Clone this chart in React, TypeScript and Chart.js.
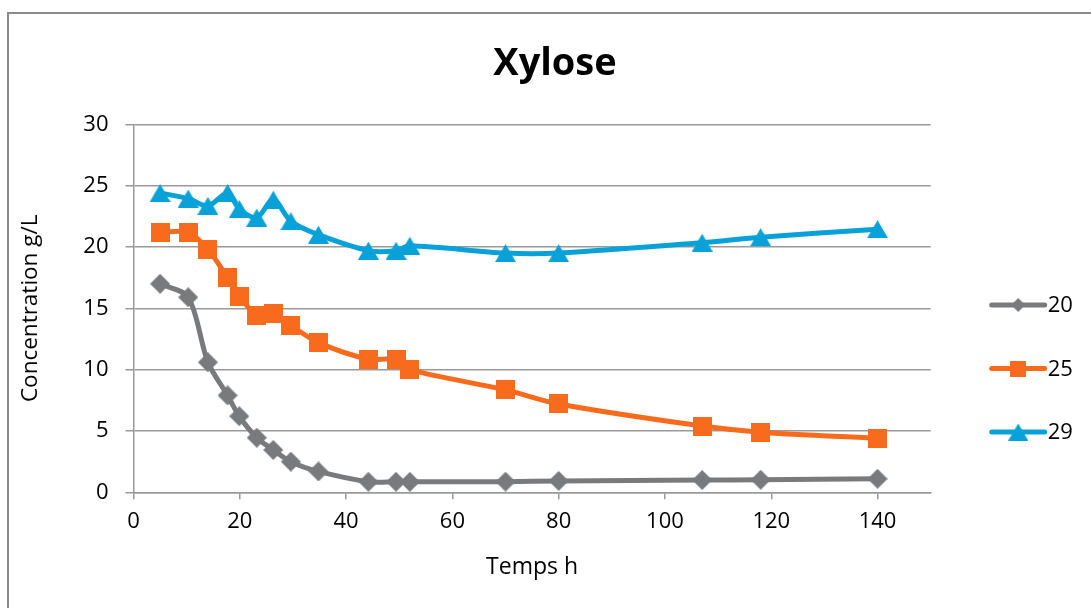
import React, { useEffect, useRef } from "react";
import { Chart, registerables } from "chart.js";

Chart.register(...registerables);

const chartTitle = "Xylose";
const xTitle = "Temps h";
const yTitle = "Concentration g/L";
const seriesNames = ["20", "25", "29"];
const times = [5, 10.3, 14, 17.7, 19.9, 23.2, 26.3, 29.6, 34.8, 44.2, 49.4, 52, 70, 80, 107, 118, 140];
const series20 = [17.0, 15.9, 10.6, 7.9, 6.2, 4.45, 3.45, 2.5, 1.7, 0.86, 0.86, 0.85, 0.87, 0.93, 1.0, 1.02, 1.1];
const series25 = [21.2, 21.2, 19.8, 17.5, 16.0, 14.45, 14.55, 13.6, 12.2, 10.85, 10.85, 10.0, 8.35, 7.2, 5.4, 4.9, 4.4];
const series29 = [24.4, 23.95, 23.35, 24.4, 23.1, 22.4, 23.85, 22.1, 21.0, 19.7, 19.7, 20.1, 19.5, 19.5, 20.35, 20.8, 21.45];
const xTicks = [0, 20, 40, 60, 80, 100, 120, 140];
const yTicks = [0, 5, 10, 15, 20, 25, 30];

const colors = ["#797a7c", "#f96b1c", "#08a2d9"];
const shapes = ["diamond", "square", "triangle"];
const FONT = "'Open Sans', sans-serif";
const GRID = "#9a9a9a";

function makeMarker(shape: string, color: string, s: number): HTMLCanvasElement {
  const c = document.createElement("canvas");
  let w = 20 * s, h = 20 * s;
  if (shape === "square") { w = 19 * s; h = 19 * s; }
  if (shape === "triangle") { w = 21 * s; h = 18 * s; }
  c.width = Math.round(w);
  c.height = Math.round(h);
  const ctx = c.getContext("2d")!;
  ctx.fillStyle = color;
  ctx.beginPath();
  if (shape === "diamond") {
    ctx.moveTo(c.width / 2, 0);
    ctx.lineTo(c.width, c.height / 2);
    ctx.lineTo(c.width / 2, c.height);
    ctx.lineTo(0, c.height / 2);
  } else if (shape === "square") {
    ctx.rect(0, 0, c.width, c.height);
  } else {
    ctx.moveTo(c.width / 2, 0);
    ctx.lineTo(c.width, c.height);
    ctx.lineTo(0, c.height);
  }
  ctx.closePath();
  ctx.fill();
  return c;
}

export default function App() {
  const ref = useRef<HTMLCanvasElement | null>(null);

  useEffect(() => {
    if (!ref.current) return;
    const values = [series20, series25, series29];
    const markers = shapes.map((sh, i) => makeMarker(sh, colors[i], 1));
    const legendMarkers = [
      makeMarker("diamond", colors[0], 0.7),
      makeMarker("square", colors[1], 0.85),
      makeMarker("triangle", colors[2], 0.95),
    ];

    const legendPlugin = {
      id: "excelLegend",
      afterDraw(chart: any) {
        const ctx = chart.ctx;
        const area = chart.chartArea;
        const lx = area.right + 59;
        const ys = [305, 368.5, 432];
        ctx.save();
        chart.data.datasets.forEach((ds: any, i: number) => {
          const y = ys[i];
          ctx.strokeStyle = colors[i];
          ctx.lineWidth = 5;
          ctx.lineCap = "round";
          ctx.beginPath();
          ctx.moveTo(lx + 2, y);
          ctx.lineTo(lx + 55, y);
          ctx.stroke();
          const m = legendMarkers[i];
          ctx.drawImage(m, lx + 28.5 - m.width / 2, y - m.height / 2);
          ctx.fillStyle = "#000";
          ctx.font = "22px " + FONT;
          ctx.textBaseline = "middle";
          ctx.textAlign = "left";
          ctx.fillText(ds.label, lx + 58, y + 1);
        });
        ctx.restore();
      },
    };

    const chart = new Chart(ref.current, {
      type: "line",
      data: {
        datasets: seriesNames.map((name, i) => ({
          label: name,
          data: times.map((t, j) => ({ x: t, y: values[i][j] })),
          borderColor: colors[i],
          backgroundColor: colors[i],
          borderWidth: 5,
          tension: 0.3,
          pointStyle: markers[i] as any,
          pointRadius: 10,
          pointHoverRadius: 10,
          fill: false,
        })),
      },
      options: {
        responsive: false,
        animation: false,
        devicePixelRatio: 1,
        layout: { padding: { left: 19, right: 0, top: 0, bottom: 0 } },
        plugins: {
          legend: { display: false },
          tooltip: { enabled: false },
          title: {
            display: true,
            text: chartTitle,
            color: "#000",
            font: { family: FONT, size: 38, weight: "bold", lineHeight: 1.2 },
            padding: { top: 41, bottom: 37.7 },
          },
        },
        scales: {
          x: {
            type: "linear",
            min: 0,
            max: 150,
            afterBuildTicks: (s: any) => { s.ticks = xTicks.map((v) => ({ value: v })); },
            afterFit: (s: any) => { s.height = 608 - 492.3; },
            grid: { display: true, drawOnChartArea: false, drawTicks: true, tickLength: 7, color: GRID, lineWidth: 1.5 },
            border: { display: true, color: GRID, width: 1.5 },
            ticks: { color: "#000", padding: 9.5, font: { family: FONT, size: 22 }, maxRotation: 0 },
            title: {
              display: true,
              text: xTitle,
              color: "#000",
              font: { family: FONT, size: 23, lineHeight: 1.2 },
              padding: { top: 0, bottom: 27.2 },
            },
          },
          y: {
            type: "linear",
            min: 0,
            max: 30,
            afterBuildTicks: (s: any) => { s.ticks = yTicks.map((v) => ({ value: v })); },
            afterFit: (s: any) => { s.width = 133.5 - 19; },
            grid: { display: true, drawTicks: true, tickLength: 8, color: GRID, lineWidth: 1.5 },
            border: { display: true, color: GRID, width: 1.5 },
            ticks: { color: "#000", padding: 17, font: { family: FONT, size: 22 } },
            title: {
              display: true,
              text: yTitle,
              color: "#000",
              font: { family: FONT, size: 22.5, lineHeight: 1.0 },
              padding: { top: 0, bottom: 0 },
            },
          },
          legendSpace: {
            type: "linear",
            position: "right",
            display: true,
            grid: { display: false, drawTicks: false },
            border: { display: false },
            ticks: { display: false },
            afterFit: (s: any) => { s.width = 1091 - 930.7; },
          },
        },
      } as any,
      plugins: [legendPlugin],
    });
    return () => chart.destroy();
  }, []);

  return (
    <div style={{ position: "absolute", left: 0, top: 0, width: 1091, height: 608, overflow: "hidden", background: "#fff" }}>
      <div
        style={{
          position: "absolute",
          left: 7,
          top: 12,
          width: 1200,
          height: 800,
          border: "2px solid #8b8b8b",
          boxSizing: "border-box",
        }}
      />
      <canvas ref={ref} width={1091} height={608} style={{ position: "absolute", left: 0, top: 0, width: 1091, height: 608 }} />
    </div>
  );
}
